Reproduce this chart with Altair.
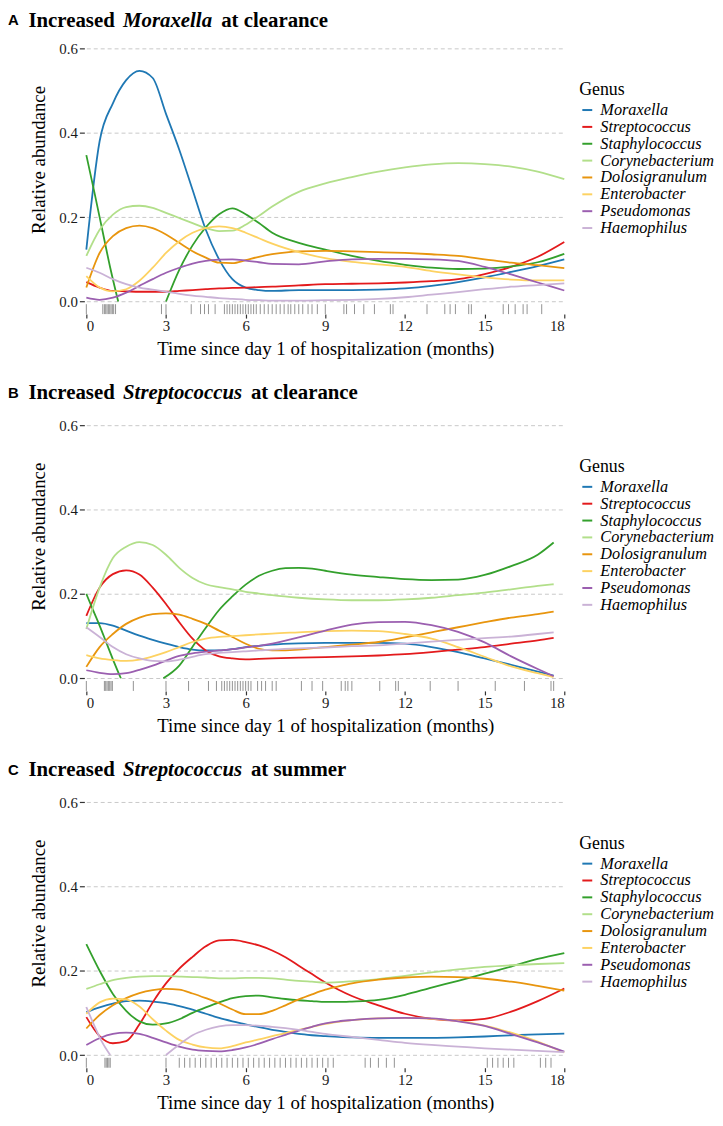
import altair as alt
import pandas as pd

GENERA = ["Moraxella", "Streptococcus", "Staphylococcus", "Corynebacterium",
          "Dolosigranulum", "Enterobacter", "Pseudomonas", "Haemophilus"]
COLORS = ["#1F78B4", "#E31A1C", "#33A02C", "#B2DF8A",
          "#E8950E", "#FDD262", "#9B5FB0", "#CAB2D6"]

# ---------------- Panel A ----------------
T_A = [0, 0.5, 1, 1.5, 2, 2.5, 3, 3.5, 4, 4.5, 5, 5.5, 6, 6.5, 7, 8, 9, 10, 11, 12, 13, 14, 15, 16, 17, 18]
A_MORAXELLA = [0.123, 0.38, 0.47, 0.525, 0.547, 0.53, 0.445, 0.36, 0.265, 0.17, 0.1, 0.053, 0.033, 0.027, 0.025, 0.027, 0.027, 0.027, 0.028, 0.031, 0.037, 0.046, 0.057, 0.07, 0.084, 0.1]
A_STREPTOCOCCUS = [0.046, 0.033, 0.025, 0.024, 0.023, 0.023, 0.023, 0.025, 0.027, 0.029, 0.031, 0.032, 0.033, 0.034, 0.035, 0.038, 0.041, 0.042, 0.043, 0.045, 0.048, 0.053, 0.065, 0.082, 0.106, 0.141]
T_A_STAPH = [0, 0.3, 0.6, 0.9, 1.2, None, 3.0, 3.5, 4, 4.5, 5, 5.5, 6, 6.5, 7, 8, 9, 10, 11, 12, 13, 14, 15, 16, 17, 18]
A_STAPHYLOCOCCUS = [0.347, 0.26, 0.17, 0.08, 0.0, None, 0.0, 0.075, 0.133, 0.176, 0.207, 0.221, 0.207, 0.186, 0.163, 0.139, 0.123, 0.108, 0.096, 0.087, 0.08, 0.077, 0.078, 0.083, 0.093, 0.113]
A_CORYNEBACTERIUM = [0.108, 0.17, 0.206, 0.224, 0.227, 0.222, 0.21, 0.198, 0.186, 0.174, 0.167, 0.168, 0.182, 0.203, 0.225, 0.26, 0.28, 0.295, 0.308, 0.318, 0.325, 0.328, 0.326, 0.32, 0.308, 0.29]
A_DOLOSIGRANULUM = [0.033, 0.115, 0.155, 0.174, 0.18, 0.174, 0.159, 0.139, 0.119, 0.104, 0.092, 0.091, 0.098, 0.106, 0.112, 0.119, 0.12, 0.119, 0.117, 0.115, 0.112, 0.108, 0.1, 0.092, 0.086, 0.079]
A_ENTEROBACTER = [0.06, 0.033, 0.024, 0.029, 0.049, 0.08, 0.115, 0.143, 0.163, 0.174, 0.178, 0.174, 0.163, 0.15, 0.137, 0.117, 0.103, 0.094, 0.088, 0.082, 0.072, 0.064, 0.057, 0.052, 0.05, 0.05]
A_PSEUDOMONAS = [0.009, 0.004, 0.009, 0.021, 0.037, 0.053, 0.068, 0.08, 0.09, 0.096, 0.099, 0.1, 0.097, 0.093, 0.089, 0.088, 0.095, 0.1, 0.101, 0.101, 0.1, 0.096, 0.082, 0.064, 0.045, 0.026]
A_HAEMOPHILUS = [0.08, 0.068, 0.053, 0.041, 0.033, 0.028, 0.023, 0.018, 0.014, 0.011, 0.008, 0.006, 0.004, 0.003, 0.002, 0.002, 0.003, 0.004, 0.006, 0.01, 0.016, 0.022, 0.029, 0.035, 0.039, 0.043]

# ---------------- Panel B ----------------
T_B = [0, 0.5, 1, 1.5, 2, 2.5, 3, 3.5, 4, 4.5, 5, 5.5, 6, 6.5, 7, 8, 9, 10, 11, 12, 13, 14, 15, 16, 17, 17.6]
B_MORAXELLA = [0.131, 0.131, 0.125, 0.113, 0.101, 0.091, 0.082, 0.074, 0.068, 0.066, 0.066, 0.069, 0.074, 0.077, 0.08, 0.083, 0.084, 0.084, 0.084, 0.082, 0.074, 0.062, 0.047, 0.032, 0.016, 0.006]
B_STREPTOCOCCUS = [0.148, 0.215, 0.247, 0.256, 0.246, 0.215, 0.176, 0.133, 0.094, 0.066, 0.052, 0.047, 0.045, 0.046, 0.047, 0.049, 0.05, 0.052, 0.054, 0.057, 0.062, 0.068, 0.074, 0.082, 0.09, 0.096]
T_B_STAPH = [0, 0.25, 0.5, 0.75, 1.0, 1.3, None, 2.9, 3.5, 4, 4.5, 5, 5.5, 6, 6.5, 7, 7.5, 8, 8.5, 9, 10, 11, 12, 13, 14, 15, 16, 17, 17.6]
B_STAPHYLOCOCCUS = [0.2, 0.162, 0.125, 0.085, 0.045, 0.0, None, 0.0, 0.03, 0.075, 0.12, 0.162, 0.194, 0.222, 0.243, 0.255, 0.261, 0.262, 0.26, 0.255, 0.246, 0.24, 0.235, 0.233, 0.234, 0.245, 0.266, 0.293, 0.322]
B_CORYNEBACTERIUM = [0.117, 0.215, 0.285, 0.312, 0.323, 0.316, 0.293, 0.262, 0.238, 0.223, 0.216, 0.211, 0.205, 0.201, 0.197, 0.191, 0.187, 0.185, 0.185, 0.187, 0.191, 0.197, 0.203, 0.211, 0.219, 0.223]
B_DOLOSIGRANULUM = [0.027, 0.074, 0.105, 0.129, 0.144, 0.152, 0.154, 0.151, 0.141, 0.129, 0.113, 0.098, 0.082, 0.07, 0.066, 0.068, 0.074, 0.08, 0.086, 0.097, 0.109, 0.121, 0.133, 0.144, 0.152, 0.158]
B_ENTEROBACTER = [0.055, 0.047, 0.043, 0.041, 0.044, 0.052, 0.062, 0.074, 0.086, 0.094, 0.098, 0.1, 0.102, 0.104, 0.106, 0.109, 0.112, 0.113, 0.112, 0.105, 0.094, 0.074, 0.051, 0.028, 0.012, 0.003]
B_PSEUDOMONAS = [0.019, 0.013, 0.01, 0.012, 0.02, 0.03, 0.042, 0.053, 0.059, 0.063, 0.066, 0.069, 0.073, 0.077, 0.082, 0.097, 0.113, 0.127, 0.133, 0.134, 0.126, 0.11, 0.085, 0.052, 0.022, 0.005]
B_HAEMOPHILUS = [0.121, 0.098, 0.074, 0.057, 0.047, 0.041, 0.04, 0.044, 0.051, 0.057, 0.06, 0.062, 0.064, 0.066, 0.068, 0.071, 0.073, 0.076, 0.078, 0.082, 0.087, 0.091, 0.095, 0.099, 0.105, 0.109]

# ---------------- Panel C ----------------
T_C = [0, 0.5, 1, 1.5, 2, 2.5, 3, 3.5, 4, 4.5, 5, 5.5, 6, 6.5, 7, 7.5, 8, 8.5, 9, 9.5, 10, 11, 12, 13, 14, 15, 16, 17, 18]
C_MORAXELLA = [0.102, 0.113, 0.122, 0.128, 0.129, 0.127, 0.123, 0.116, 0.108, 0.098, 0.088, 0.08, 0.073, 0.066, 0.06, 0.055, 0.05, 0.047, 0.045, 0.043, 0.042, 0.041, 0.041, 0.041, 0.042, 0.044, 0.047, 0.049, 0.051]
C_STREPTOCOCCUS = [0.09, 0.045, 0.028, 0.033, 0.073, 0.125, 0.17, 0.205, 0.233, 0.258, 0.272, 0.273, 0.268, 0.26, 0.248, 0.232, 0.212, 0.192, 0.172, 0.155, 0.14, 0.118, 0.098, 0.086, 0.082, 0.086, 0.103, 0.128, 0.158]
C_STAPHYLOCOCCUS = [0.263, 0.2, 0.145, 0.105, 0.08, 0.072, 0.075, 0.085, 0.1, 0.113, 0.125, 0.135, 0.14, 0.141, 0.137, 0.133, 0.13, 0.128, 0.126, 0.126, 0.127, 0.131, 0.143, 0.16, 0.176, 0.193, 0.21, 0.228, 0.242]
C_CORYNEBACTERIUM = [0.157, 0.168, 0.178, 0.183, 0.186, 0.187, 0.187, 0.186, 0.185, 0.184, 0.182, 0.182, 0.183, 0.183, 0.182, 0.179, 0.176, 0.174, 0.172, 0.173, 0.175, 0.18, 0.188, 0.196, 0.203, 0.209, 0.213, 0.216, 0.218]
C_DOLOSIGRANULUM = [0.063, 0.095, 0.118, 0.135, 0.147, 0.154, 0.157, 0.155, 0.146, 0.135, 0.123, 0.108, 0.097, 0.097, 0.105, 0.118, 0.132, 0.144, 0.155, 0.163, 0.17, 0.179, 0.184, 0.186, 0.185, 0.181, 0.174, 0.164, 0.153]
C_ENTEROBACTER = [0.098, 0.125, 0.134, 0.132, 0.115, 0.085, 0.058, 0.036, 0.025, 0.018, 0.016, 0.021, 0.03, 0.037, 0.045, 0.052, 0.06, 0.067, 0.074, 0.079, 0.083, 0.087, 0.088, 0.086, 0.081, 0.07, 0.053, 0.032, 0.006]
C_PSEUDOMONAS = [0.024, 0.04, 0.05, 0.053, 0.05, 0.041, 0.03, 0.02, 0.013, 0.01, 0.009, 0.012, 0.018, 0.027, 0.038, 0.048, 0.058, 0.067, 0.075, 0.08, 0.083, 0.087, 0.088, 0.087, 0.08, 0.069, 0.05, 0.03, 0.008]
T_C_HAEMO = [0, 0.3, 0.6, 0.9, None, 3.0, 3.5, 4, 4.5, 5, 5.5, 6, 7, 8, 9, 10, 11, 12, 13, 14, 15, 16, 17, 18]
C_HAEMOPHILUS = [0.114, 0.07, 0.03, 0.0, None, 0.0, 0.025, 0.047, 0.06, 0.068, 0.071, 0.071, 0.067, 0.06, 0.05, 0.043, 0.036, 0.029, 0.024, 0.02, 0.016, 0.013, 0.01, 0.007]

# ---------------- Rug (sample times, months) ----------------
RUG_A = [0.0, 0.62, 0.68, 0.73, 0.78, 0.83, 0.88, 0.93, 0.98, 1.03, 1.1, 2.83, 3.0, 3.95, 4.3, 4.45, 4.6, 4.85,
         5.2, 5.3, 5.4, 5.5, 5.6, 5.7, 5.8, 5.9, 6.0, 6.1, 6.2, 6.3, 6.4, 6.55, 6.7, 6.85, 7.0, 7.15, 7.3, 7.45,
         7.6, 7.7, 7.85, 8.0, 8.15, 8.35, 8.5, 8.7, 9.0, 9.7, 9.8, 10.1, 10.45, 10.85, 11.45, 11.55, 12.83,
         13.5, 13.7, 13.9, 14.4, 14.5, 15.7, 15.9, 16.15, 16.45, 16.6, 17.15]
RUG_B = [0.0, 0.68, 0.73, 0.78, 0.83, 0.88, 0.93, 0.98, 1.77, 3.0, 3.85, 4.6, 4.9, 5.1, 5.2, 5.3, 5.4, 5.5, 5.6,
         5.7, 5.8, 5.9, 6.0, 6.1, 6.2, 6.45, 6.6, 6.75, 7.0, 7.15, 8.1, 8.5, 8.9, 9.6, 9.75, 9.85, 10.0, 11.05,
         11.65, 11.75, 12.95, 14.0, 15.4, 16.5, 17.5, 17.6]
RUG_C = [0.0, 0.7, 0.75, 0.8, 0.85, 0.9, 3.0, 3.5, 3.7, 3.9, 4.1, 4.3, 4.5, 4.7, 4.9, 5.1, 5.3, 5.5, 5.7, 5.9,
         6.1, 6.3, 6.5, 6.7, 6.9, 7.1, 7.3, 7.5, 7.7, 7.9, 8.1, 8.3, 8.5, 8.7, 8.9, 9.1, 9.3, 10.5, 10.7, 11.0,
         11.3, 11.6, 15.1, 15.3, 15.5, 15.7, 15.9, 16.1, 17.1, 17.3, 17.5]

TITLE_A = ["A", "Increased", "Moraxella", "at clearance"]
TITLE_B = ["B", "Increased", "Streptococcus", "at clearance"]
TITLE_C = ["C", "Increased", "Streptococcus", "at summer"]

X_TICKS = [0, 3, 6, 9, 12, 15, 18]
Y_TICKS = [0, 0.2, 0.4, 0.6]

SERIES = {
    "A": [(T_A, A_MORAXELLA), (T_A, A_STREPTOCOCCUS), (T_A_STAPH, A_STAPHYLOCOCCUS), (T_A, A_CORYNEBACTERIUM),
          (T_A, A_DOLOSIGRANULUM), (T_A, A_ENTEROBACTER), (T_A, A_PSEUDOMONAS), (T_A, A_HAEMOPHILUS)],
    "B": [(T_B, B_MORAXELLA), (T_B, B_STREPTOCOCCUS), (T_B_STAPH, B_STAPHYLOCOCCUS), (T_B, B_CORYNEBACTERIUM),
          (T_B, B_DOLOSIGRANULUM), (T_B, B_ENTEROBACTER), (T_B, B_PSEUDOMONAS), (T_B, B_HAEMOPHILUS)],
    "C": [(T_C, C_MORAXELLA), (T_C, C_STREPTOCOCCUS), (T_C, C_STAPHYLOCOCCUS), (T_C, C_CORYNEBACTERIUM),
          (T_C, C_DOLOSIGRANULUM), (T_C, C_ENTEROBACTER), (T_C, C_PSEUDOMONAS), (T_C_HAEMO, C_HAEMOPHILUS)],
}


def build_df(key):
    rows = []
    for gi, (ts, vs) in enumerate(SERIES[key]):
        seg = 0
        for t, v in zip(ts, vs):
            if t is None or v is None:
                seg += 1
                continue
            rows.append({"genus": GENERA[gi], "seg": f"{GENERA[gi]}_{seg}", "t": t, "v": v})
    return pd.DataFrame(rows)


W, H = 482, 304
SERIF = "Liberation Serif"


def panel(key, title, rug, title_y, letter_y):
    df = build_df(key)
    xs = alt.Scale(domain=[0, 18], nice=False, zero=False)
    ys = alt.Scale(domain=[-0.03, 0.685], nice=False, zero=False)
    lines = alt.Chart(df).mark_line(interpolate="monotone", strokeWidth=1.8).encode(
        x=alt.X("t:Q", scale=xs, axis=alt.Axis(
            values=X_TICKS, format="d", grid=False, domain=False, tickSize=4, tickColor="#333333",
            tickWidth=1.2, labelFont=SERIF, labelFontSize=15, labelColor="#1a1a1a", labelPadding=1,
            title="Time since day 1 of hospitalization (months)", titleFont=SERIF, titleFontSize=19,
            titleFontWeight="normal", titleColor="#000000", titleX=241, titleY=41,
            titleBaseline="alphabetic", titleAlign="center")),
        y=alt.Y("v:Q", scale=ys, axis=alt.Axis(
            values=Y_TICKS, format=".1f", grid=True, gridDash=[4, 3], gridColor="#C8C8C8", gridWidth=1,
            domain=False, tickSize=5, tickColor="#333333", tickWidth=1.2, offset=2,
            labelFont=SERIF, labelFontSize=15, labelColor="#1a1a1a", labelPadding=2,
            title="Relative abundance", titleFont=SERIF, titleFontSize=19, titleFontWeight="normal",
            titleColor="#000000", titleAngle=270, titleX=-46, titleY=148, titleBaseline="middle",
            titleAlign="center")),
        color=alt.Color("genus:N", scale=alt.Scale(domain=GENERA, range=COLORS), legend=alt.Legend(
            title="Genus", orient="none", legendX=497, legendY=69, direction="vertical",
            symbolType="stroke", symbolSize=100, symbolStrokeWidth=2, labelFont=SERIF,
            labelFontStyle="italic", labelFontSize=16.4, labelColor="#000000", labelOffset=5,
            titleFont=SERIF, titleFontSize=18, titleFontWeight="normal", titleColor="#000000",
            titlePadding=3, rowPadding=0, padding=0)),
        detail="seg:N",
    )
    rugc = alt.Chart(pd.DataFrame({"t": rug})).mark_rule(color="#777777", strokeWidth=0.8).encode(
        x="t:Q", y=alt.value(H), y2=alt.value(H - 10))
    letter = alt.Chart(pd.DataFrame({"s": [title[0]]})).mark_text(
        font="Liberation Sans", fontSize=15, fontWeight="bold", align="left", baseline="alphabetic").encode(
        x=alt.value(-79), y=alt.value(letter_y), text="s:N")
    t1 = alt.Chart(pd.DataFrame({"s": [title[1]]})).mark_text(
        font=SERIF, fontSize=21, fontWeight="bold", align="left", baseline="alphabetic").encode(
        x=alt.value(-58.4), y=alt.value(title_y), text="s:N")
    t2 = alt.Chart(pd.DataFrame({"s": [title[2]]})).mark_text(
        font=SERIF, fontSize=21, fontWeight="bold", fontStyle="italic", align="left",
        baseline="alphabetic").encode(x=alt.value(37), y=alt.value(title_y), text="s:N")
    t3x = 136 if title[2] == "Moraxella" else 166
    t3 = alt.Chart(pd.DataFrame({"s": [title[3]]})).mark_text(
        font=SERIF, fontSize=21, fontWeight="bold", align="left", baseline="alphabetic").encode(
        x=alt.value(t3x), y=alt.value(title_y), text="s:N")
    return alt.layer(rugc, lines, letter, t1, t2, t3).properties(width=W, height=H)


pa = panel("A", TITLE_A, RUG_A, 14, 12.5)
pb = panel("B", TITLE_B, RUG_B, 10, 8.5)
pc = panel("C", TITLE_C, RUG_C, 10, 8.5)

chart = alt.vconcat(pa, pb, pc, spacing=76, bounds="flush").resolve_scale(
    color="independent").configure_view(stroke=None).properties(
    padding={"left": 0, "top": -3, "right": 0, "bottom": 0}, background="white")

chart.save("out.html", embed_options={"renderer": "svg", "actions": False})
